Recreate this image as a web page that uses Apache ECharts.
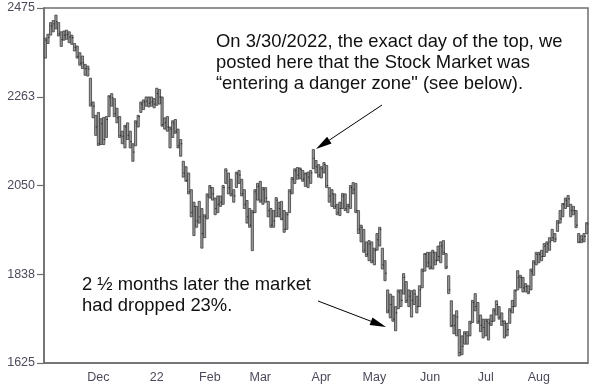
<!DOCTYPE html>
<html>
<head>
<meta charset="utf-8">
<script src="https://cdn.jsdelivr.net/npm/echarts@6/dist/echarts.min.js"></script>
<style>
html,body{margin:0;padding:0;background:#fff;}
#chart{width:594px;height:390px;}
</style>
</head>
<body>
<div id="chart"></div>
<script>
// Trading days by month (Nov 2021 - Aug 2022)
const monthKeys = ['2021-11','2021-12','2022-01','2022-02','2022-03','2022-04','2022-05','2022-06','2022-07','2022-08'];
const monthDays = [
  [2,3,4,5,8,9,10,11,12,15,16,17,18,19,22,23,24,26,29,30],
  [1,2,3,6,7,8,9,10,13,14,15,16,17,20,21,22,23,27,28,29,30,31],
  [3,4,5,6,7,10,11,12,13,14,18,19,20,21,24,25,26,27,28,31],
  [1,2,3,4,7,8,9,10,11,14,15,16,17,18,22,23,24,25,28],
  [1,2,3,4,7,8,9,10,11,14,15,16,17,18,21,22,23,24,25,28,29,30,31],
  [1,4,5,6,7,8,11,12,13,14,18,19,20,21,22,25,26,27,28,29],
  [2,3,4,5,6,9,10,11,12,13,16,17,18,19,20,23,24,25,26,27,31],
  [1,2,3,6,7,8,9,10,13,14,15,16,17,21,22,23,24,27,28,29,30],
  [1,5,6,7,8,11,12,13,14,15,18,19,20,21,22,25,26,27,28,29],
  [1,2,3,4,5,8,9,10,11,12,15,16,17,18,19,22,23,24,25]
];
// Month tick labels (shown at first trading day of each month)
const monthLabels = ['', 'Dec', '22', 'Feb', 'Mar', 'Apr', 'May', 'Jun', 'Jul', 'Aug'];

const highs = [
 2403,2412,2440,2445,2458,2440,2418,2420,2422,2418,2410,2390,2384,2368,2360,2340,2336,2307,2250,2218,
 2225,2210,2213,2215,2265,2270,2258,2235,2215,2180,2194,2200,2180,2150,2205,2218,2250,2255,2262,2262,2262,2258,
 2283,2280,2262,2212,2215,2190,2205,2208,2185,2160,2108,2095,2080,2040,2010,2000,2012,1995,1980,2030,
 2050,2045,2020,2025,2025,2050,2090,2080,2065,2040,2082,2086,2065,2040,2014,1995,1990,2040,2055,
 2060,2045,2045,2012,1995,1990,2021,2010,2012,1990,1985,2040,2069,2090,2093,2092,2086,2080,2082,2086,2136,2110,2100,
 2095,2105,2098,2045,2040,2030,2005,2010,2031,2030,2005,2050,2057,2055,1990,1955,1945,1915,1918,1915,
 1900,1935,1950,1900,1870,1800,1790,1785,1760,1800,1800,1839,1820,1800,1798,1800,1785,1810,1850,1887,1890,
 1890,1895,1890,1905,1915,1918,1887,1834,1774,1740,1750,1705,1690,1700,1700,1725,1775,1791,1770,1740,1730,
 1730,1730,1740,1755,1774,1760,1745,1726,1720,1755,1775,1800,1846,1835,1830,1815,1810,1850,1870,1890,
 1890,1895,1911,1915,1925,1945,1935,1966,1990,2007,2020,2026,2005,2000,1990,1935,1930,1935,1961
];
const lows = [
 2355,2390,2410,2418,2425,2408,2383,2398,2400,2392,2388,2372,2355,2338,2330,2314,2312,2240,2212,2170,
 2146,2148,2148,2165,2215,2240,2215,2200,2165,2150,2140,2160,2140,2108,2145,2190,2225,2232,2240,2238,2240,2236,
 2242,2245,2192,2185,2180,2140,2165,2175,2140,2120,2070,2060,2030,1975,1930,1950,1960,1900,1925,1970,
 2020,2015,1980,1985,2000,2005,2055,2030,2025,2010,2045,2055,2025,1995,1960,1950,1894,1985,2015,
 2010,2005,2010,1975,1950,1950,1975,1975,1968,1938,1945,1985,2030,2055,2065,2066,2060,2048,2045,2055,2090,2080,2070,
 2068,2080,2045,2010,2000,1995,1980,1978,1995,1990,1985,1995,2030,1985,1935,1915,1890,1880,1870,1865,
 1860,1895,1905,1850,1822,1745,1733,1725,1702,1755,1760,1790,1770,1760,1735,1765,1745,1760,1805,1845,1855,
 1850,1850,1860,1870,1865,1885,1851,1791,1712,1695,1690,1642,1645,1670,1670,1690,1722,1750,1720,1700,1685,
 1690,1680,1715,1725,1740,1730,1715,1685,1690,1720,1745,1760,1800,1805,1795,1795,1791,1800,1835,1860,
 1865,1870,1880,1890,1895,1918,1915,1940,1960,1975,1995,2000,1975,1980,1949,1913,1913,1915,1935
];
const closes = [
 2398,2405,2432,2437,2442,2413,2399,2410,2411,2405,2404,2381,2359,2343,2344,2330,2329,2245,2240,2190,
 2150,2198,2160,2208,2262,2260,2222,2212,2170,2168,2190,2170,2155,2130,2200,2215,2245,2250,2252,2247,2250,2245,
 2270,2262,2196,2200,2190,2185,2200,2180,2145,2150,2080,2062,2035,1985,2000,1965,1975,1935,1975,2025,
 2045,2030,1995,2005,2010,2045,2085,2045,2030,2025,2078,2075,2030,2005,1975,1955,1985,2035,2048,
 2015,2040,2020,1990,1955,1965,2015,1995,1970,1945,1980,2035,2065,2085,2075,2088,2065,2078,2070,2080,2115,2095,2075,
 2090,2100,2050,2025,2030,2000,1985,1995,2025,1995,2000,2045,2040,1990,1945,1950,1895,1885,1910,1870,
 1895,1920,1945,1860,1840,1750,1765,1730,1745,1795,1775,1830,1775,1785,1775,1790,1760,1800,1845,1885,1865,
 1855,1890,1870,1880,1905,1890,1855,1800,1715,1715,1735,1650,1665,1695,1690,1720,1770,1760,1725,1715,1710,
 1725,1720,1725,1750,1765,1735,1725,1720,1705,1750,1760,1798,1830,1830,1805,1808,1795,1845,1865,1885,
 1885,1880,1905,1910,1915,1925,1922,1960,1970,2005,2015,2018,1990,1990,1955,1915,1920,1928,1958
];
// Y-axis tick values
const yTicks = [1625, 1837.5, 2050, 2262.5, 2475];

// Build categories and month-start set
const categories = [];
const monthStart = {};
monthKeys.forEach(function (mk, m) {
  monthDays[m].forEach(function (d, j) {
    const s = mk + '-' + (d < 10 ? '0' + d : d);
    if (j === 0 && monthLabels[m]) monthStart[s] = monthLabels[m];
    categories.push(s);
  });
});
const seriesData = categories.map(function (c, i) { return [i, highs[i], lows[i], closes[i]]; });

const chart = echarts.init(document.getElementById('chart'), null, {renderer: 'canvas'});
const FONT = '"Liberation Sans", Arial, sans-serif';
const isMonthStart = function (idx, val) { return monthStart[val] !== undefined; };

function arrow(x1, y1, x2, y2) {
  const dx = x2 - x1, dy = y2 - y1, len = Math.sqrt(dx * dx + dy * dy);
  const ux = dx / len, uy = dy / len, hl = 16, hw = 4;
  const bx = x2 - ux * hl, by = y2 - uy * hl;
  return [
    {type: 'line', shape: {x1: x1, y1: y1, x2: bx, y2: by}, style: {stroke: '#000', lineWidth: 1}, silent: true},
    {type: 'polygon', shape: {points: [[x2, y2], [bx - uy * hw, by + ux * hw], [bx + uy * hw, by - ux * hw]]}, style: {fill: '#000'}, silent: true}
  ];
}

chart.setOption({
  animation: false,
  backgroundColor: '#fff',
  grid: {left: 44, right: 6, top: 8, bottom: 27, show: true, borderColor: '#6e6e6e', borderWidth: 1.5},
  xAxis: {
    type: 'category',
    data: categories,
    boundaryGap: true,
    axisLine: {lineStyle: {color: '#6e6e6e', width: 1.5}},
    axisTick: {interval: isMonthStart, length: 5, lineStyle: {color: '#6e6e6e', width: 1.2}},
    axisLabel: {interval: isMonthStart, formatter: function (v) { return monthStart[v] || ''; },
      color: '#4a4a5a', fontSize: 12.5, fontFamily: FONT, margin: 8},
    splitLine: {show: false}
  },
  yAxis: {
    type: 'value',
    min: 1625, max: 2475,
    axisLine: {show: true, lineStyle: {color: '#6e6e6e', width: 1.5}},
    axisTick: {show: true, customValues: yTicks, length: 7, lineStyle: {color: '#6e6e6e', width: 1.2}},
    axisLabel: {customValues: yTicks, formatter: function (v) { return String(Math.round(v)); },
      color: '#4a4a5a', fontSize: 12.5, fontFamily: FONT, margin: 9},
    splitLine: {show: false}
  },
  series: [{
    type: 'custom',
    data: seriesData,
    encode: {x: 0, y: [1, 2]},
    renderItem: function (params, api) {
      const i = api.value(0);
      const hi = api.coord([i, api.value(1)]);
      const lo = api.coord([i, api.value(2)]);
      const cl = api.coord([i, api.value(3)]);
      const w = 2.2;
      return {type: 'group', children: [
        {type: 'rect', shape: {x: hi[0] - w / 2, y: hi[1], width: w, height: Math.max(1, lo[1] - hi[1])},
          style: {fill: '#9c9c9c', stroke: '#3c3c3c', lineWidth: 0.8}},
        {type: 'line', shape: {x1: cl[0], y1: cl[1], x2: cl[0] + 1.6, y2: cl[1]}, style: {stroke: '#2a2a2a', lineWidth: 1}}
      ]};
    }
  }],
  graphic: [
    {type: 'text', left: 216, top: 31, silent: true,
      style: {text: 'On 3/30/2022, the exact day of the top, we\nposted here that the Stock Market was\n\u201centering a danger zone" (see below).',
        font: '18.4px ' + FONT, fill: '#111', lineHeight: 21}},
    {type: 'text', left: 82, top: 274, silent: true,
      style: {text: '2 \u00bd months later the market\nhad dropped 23%.', font: '18.4px ' + FONT, fill: '#111', lineHeight: 21.5}}
  ].concat(arrow(382, 105, 316, 149)).concat(arrow(318, 301, 386, 327))
});
</script>
</body>
</html>
